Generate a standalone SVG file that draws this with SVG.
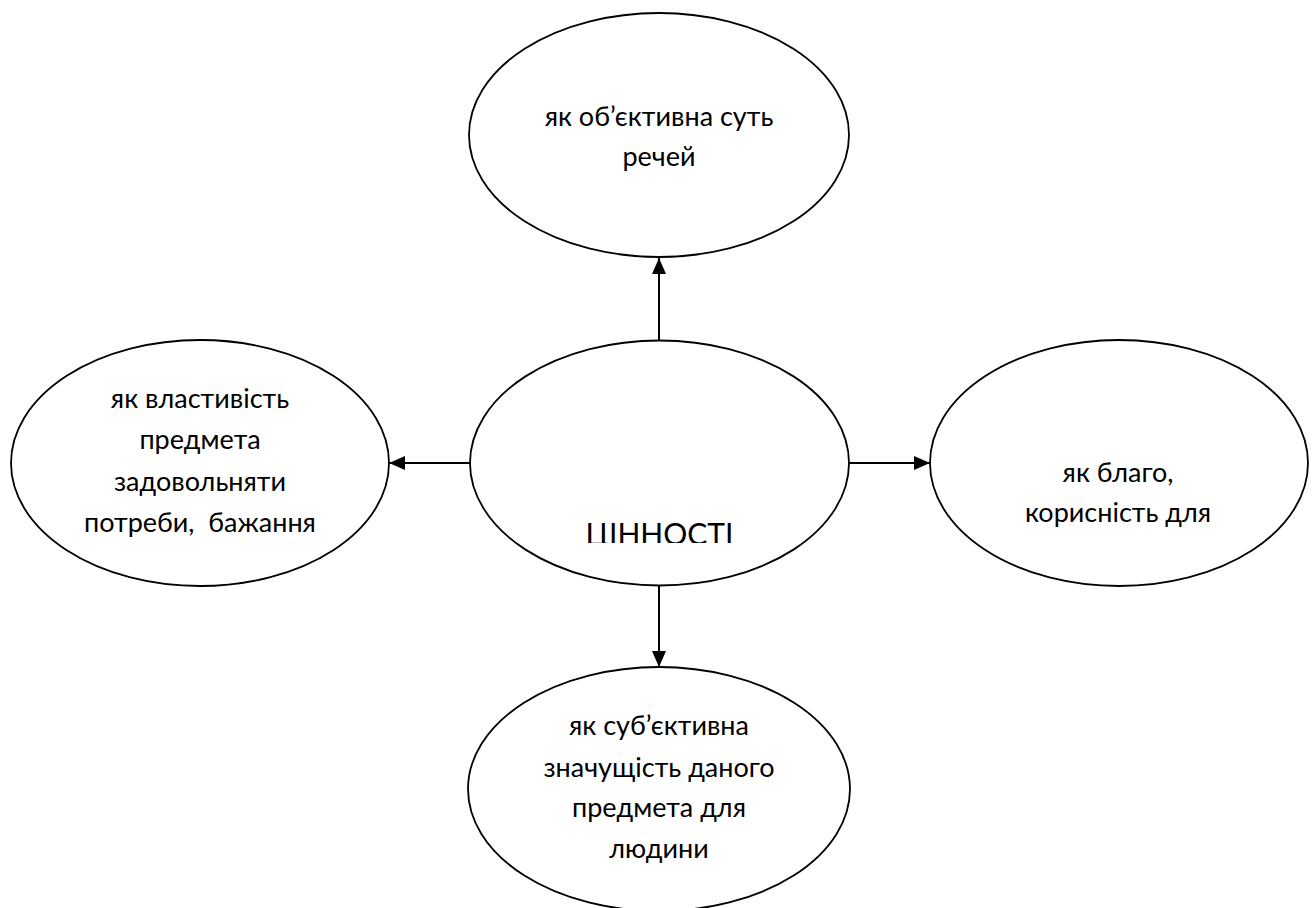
<svg xmlns="http://www.w3.org/2000/svg" width="1316" height="908" viewBox="0 0 1316 908">
<style>
.node ellipse{fill:#fff;stroke:#000;stroke-width:1.8}
.lbl{font-family:Lato,"Open Sans","Liberation Sans",sans-serif;font-size:27px;fill:#000;text-anchor:middle;white-space:pre}
.big{font-size:30px}
.conn line{stroke:#000;stroke-width:2}
</style>
<defs>
<marker id="arr" markerWidth="16" markerHeight="14" refX="16" refY="7" orient="auto" markerUnits="userSpaceOnUse">
<path d="M0,0 L16,7 L0,14 Z" fill="#000"/>
</marker>
<clipPath id="cclip"><rect x="470" y="340" width="380" height="203"/></clipPath>
</defs>
<rect width="1316" height="908" fill="#fff"/>
<g id="top" class="node">
<ellipse cx="659" cy="135" rx="190" ry="122"/>
<text class="lbl" x="659" y="126">як об’єктивна суть</text>
<text class="lbl" x="659" y="166">речей</text>
</g>
<g id="left" class="node">
<ellipse cx="200" cy="463" rx="189" ry="123"/>
<text class="lbl" x="200" y="408">як властивість</text>
<text class="lbl" x="200" y="449">предмета</text>
<text class="lbl" x="200" y="491">задовольняти</text>
<text class="lbl" x="200" y="532" xml:space="preserve">потреби,  бажання</text>
</g>
<g id="right" class="node">
<ellipse cx="1119" cy="463" rx="189" ry="123"/>
<text class="lbl" x="1118" y="482">як благо,</text>
<text class="lbl" x="1118" y="522">корисність для</text>
</g>
<g id="bottom" class="node">
<ellipse cx="659" cy="789" rx="191" ry="122"/>
<text class="lbl" x="659" y="735">як суб’єктивна</text>
<text class="lbl" x="659" y="777">значущість даного</text>
<text class="lbl" x="659" y="817">предмета для</text>
<text class="lbl" x="659" y="858">людини</text>
</g>
<g id="center" class="node">
<ellipse cx="659.5" cy="463" rx="189.5" ry="122.5"/>
<text class="lbl big" x="659.5" y="545" clip-path="url(#cclip)">ЦІННОСТІ</text>
</g>
<g id="connectors" class="conn">
<line x1="659" y1="340" x2="659" y2="258" marker-end="url(#arr)"/>
<line x1="659" y1="586" x2="659" y2="667" marker-end="url(#arr)"/>
<line x1="470" y1="463" x2="389" y2="463" marker-end="url(#arr)"/>
<line x1="849" y1="463" x2="930" y2="463" marker-end="url(#arr)"/>
</g>
</svg>
